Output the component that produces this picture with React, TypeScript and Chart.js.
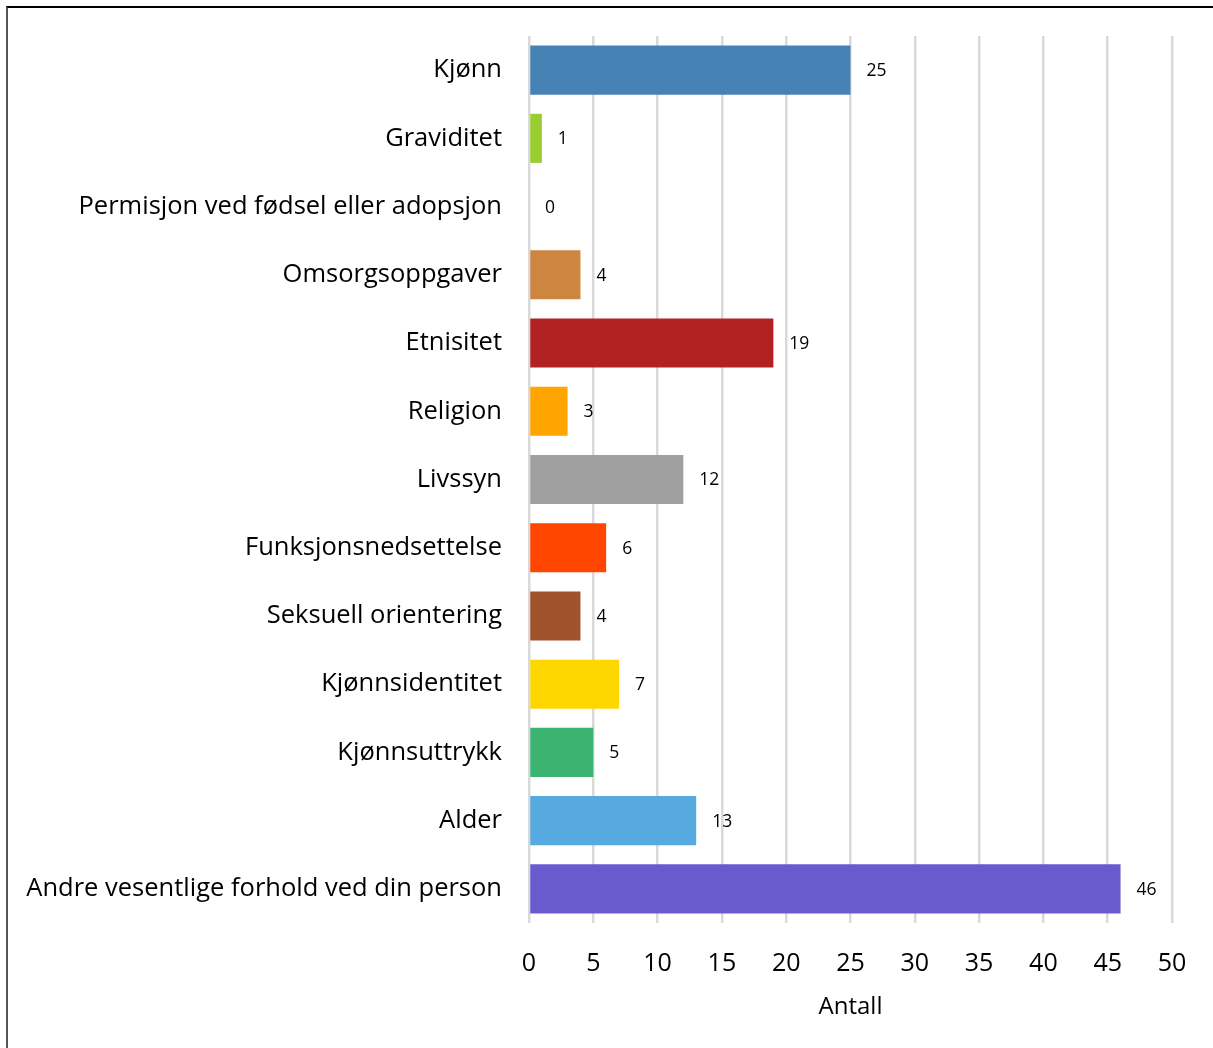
import React, { useEffect, useRef } from "react";
import { Chart, registerables } from "chart.js";

Chart.register(...registerables);

const categories = [
  "Kjønn",
  "Graviditet",
  "Permisjon ved fødsel eller adopsjon",
  "Omsorgsoppgaver",
  "Etnisitet",
  "Religion",
  "Livssyn",
  "Funksjonsnedsettelse",
  "Seksuell orientering",
  "Kjønnsidentitet",
  "Kjønnsuttrykk",
  "Alder",
  "Andre vesentlige forhold ved din person",
];
const values = [25, 1, 0, 4, 19, 3, 12, 6, 4, 7, 5, 13, 46];
const barColors = [
  "#4682B4",
  "#9ACD32",
  "#808080",
  "#CD853F",
  "#B22222",
  "#FFA500",
  "#A0A0A0",
  "#FF4500",
  "#A0522D",
  "#FFD700",
  "#3CB371",
  "#56AADF",
  "#6A5ACD",
];
const xTicks = [0, 5, 10, 15, 20, 25, 30, 35, 40, 45, 50];
const axisTitle = "Antall";

const FONT = "'Open Sans', 'Noto Sans', sans-serif";

const valueLabels = {
  id: "valueLabels",
  afterDatasetsDraw(chart: any) {
    const ctx = chart.ctx;
    const meta = chart.getDatasetMeta(0);
    ctx.save();
    ctx.font = `17.5px ${FONT}`;
    ctx.fillStyle = "#000";
    ctx.textAlign = "left";
    ctx.textBaseline = "middle";
    meta.data.forEach((bar: any, i: number) => {
      ctx.fillText(String(values[i]), bar.x + 16, bar.y + 1);
    });
    ctx.restore();
  },
};

export default function App() {
  const ref = useRef<HTMLCanvasElement | null>(null);
  useEffect(() => {
    if (!ref.current) return;
    const chart = new Chart(ref.current, {
      type: "bar",
      data: {
        labels: categories,
        datasets: [
          {
            data: values,
            backgroundColor: barColors,
            borderWidth: 0,
            categoryPercentage: 1,
            barPercentage: 0.72,
          },
        ],
      },
      options: {
        indexAxis: "y",
        animation: false,
        responsive: true,
        maintainAspectRatio: false,
        layout: { padding: { top: 36, right: 41, bottom: 0, left: 0 } },
        plugins: {
          legend: { display: false },
          tooltip: { enabled: false },
        },
        scales: {
          x: {
            min: 0,
            max: 50,
            afterBuildTicks: (scale: any) => {
              scale.ticks = xTicks.map((v) => ({ value: v }));
            },
            afterFit: (scale: any) => {
              scale.height = 125;
            },
            grid: {
              color: "#d9d9d9",
              lineWidth: 2.5,
              drawTicks: false,
            },
            border: { display: false },
            ticks: {
              color: "#000",
              padding: 26,
              font: { family: FONT, size: 25 },
              maxRotation: 0,
            },
            title: {
              display: true,
              text: axisTitle,
              color: "#000",
              font: { family: FONT, size: 24 },
              padding: { top: 0, bottom: 26 },
            },
          },
          y: {
            afterFit: (scale: any) => {
              scale.width = 529;
              scale.paddingTop = 0;
              scale.paddingBottom = 0;
            },
            grid: { display: false, drawTicks: false },
            border: { display: false },
            ticks: {
              color: "#000",
              padding: 27,
              font: { family: FONT, size: 25.5 },
            },
          },
        },
      },
      plugins: [valueLabels],
    } as any);
    return () => chart.destroy();
  }, []);

  return (
    <div
      style={{
        position: "fixed",
        left: 0,
        top: 0,
        width: 1213,
        height: 1048,
        background: "#fff",
        overflow: "hidden",
      }}
    >
      <canvas ref={ref} style={{ position: "absolute", left: 0, top: 0 }} />
      <div
        style={{
          position: "absolute",
          left: 6,
          top: 6,
          width: 1400,
          height: 1200,
          borderTop: "2px solid #000",
          borderLeft: "2px solid #555",
          pointerEvents: "none",
        }}
      />
    </div>
  );
}
